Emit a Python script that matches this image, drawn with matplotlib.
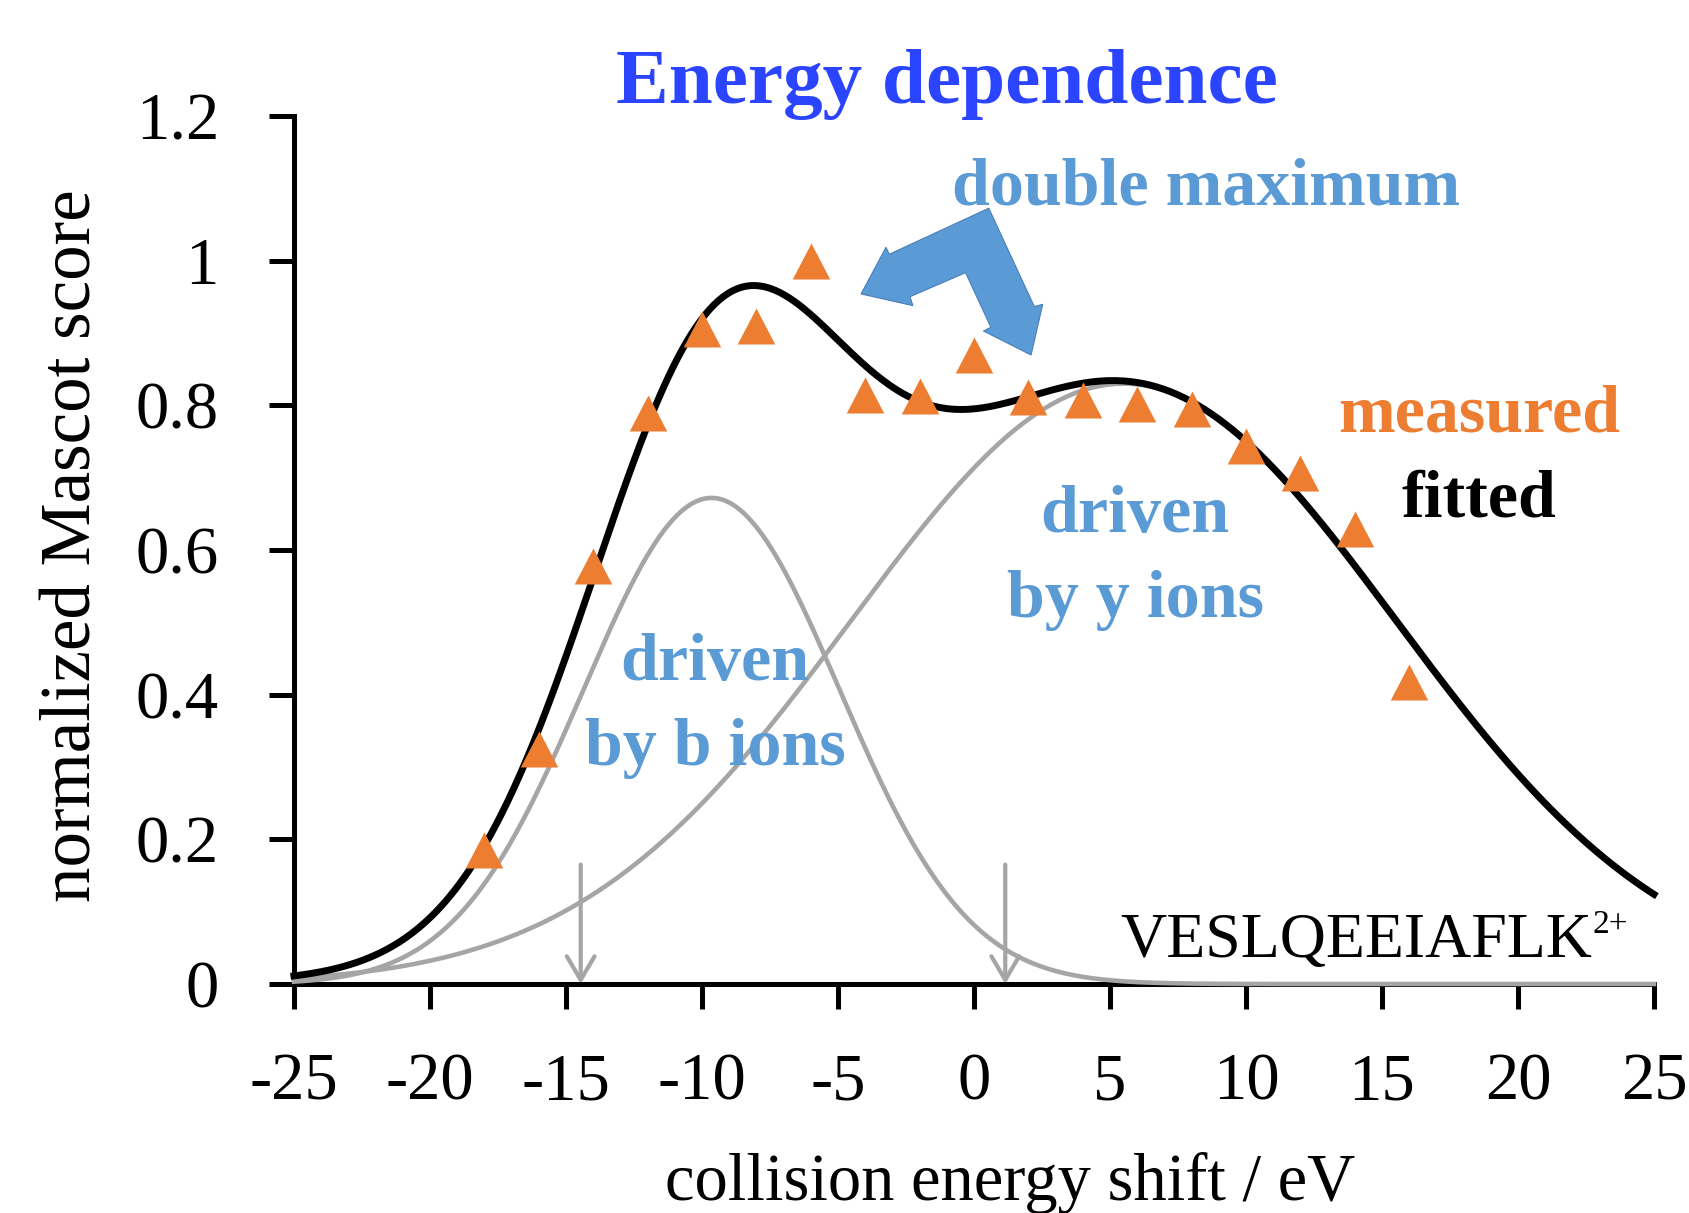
import numpy as np
import matplotlib
matplotlib.use('Agg')
import matplotlib.pyplot as plt
from matplotlib.patches import Polygon, FancyArrowPatch, ArrowStyle

# Measured points (collision energy shift in eV, normalized Mascot score)
shift_ev = [-18, -16, -14, -12, -10, -8, -6, -4, -2, 0, 2, 4, 6, 8, 10, 12, 14, 16]
score = [0.185, 0.325, 0.578, 0.789, 0.905, 0.910, 1.0, 0.814, 0.813, 0.870,
         0.811, 0.808, 0.802, 0.795, 0.744, 0.707, 0.629, 0.417]

# Gaussian components of the fit (b ions, y ions)
comp_centers = [-9.65, 5.5]
comp_heights = [0.672, 0.83]
comp_widths = [4.7, 10.0]

# Positions marked by the grey arrows
marker_shifts = [-14.46, 1.15]

x_ticks = [-25, -20, -15, -10, -5, 0, 5, 10, 15, 20, 25]
y_ticks = [0, 0.2, 0.4, 0.6, 0.8, 1.0, 1.2]
y_tick_labels = ['0', '0.2', '0.4', '0.6', '0.8', '1', '1.2']

ORANGE = '#ED7D31'
LIGHT_BLUE = '#5B9BD5'
GREY = '#A5A5A5'
TITLE_BLUE = '#2B44FF'

plt.rcParams['font.family'] = ['Liberation Serif', 'DejaVu Serif']
plt.rcParams['axes.unicode_minus'] = False

fig = plt.figure(figsize=(16.9, 12.13), dpi=100)
ax = fig.add_axes([0.17396, 0.18879, 0.80473, 0.71558])

# fitted curve and its components
x = np.linspace(-25, 25, 600)
components = [h * np.exp(-(x - c) ** 2 / (2 * w ** 2))
              for c, h, w in zip(comp_centers, comp_heights, comp_widths)]
for comp in components:
    ax.plot(x, comp, color=GREY, lw=3.3, zorder=3, clip_on=False)
ax.plot(x, components[0] + components[1], color='black', lw=5, zorder=4,
        clip_on=False)

# measured points as triangles
tri = [(-0.5, -0.48), (0.5, -0.48), (0.0, 0.48)]
ax.plot(shift_ev, score, linestyle='none', marker=tri, markersize=27,
        color=ORANGE, markeredgewidth=0, zorder=5, clip_on=False)

# grey arrows pointing down to the axis
for xs in marker_shifts:
    ax.add_patch(FancyArrowPatch(
        (xs, 0.165), (xs, 0.0),
        arrowstyle=ArrowStyle('->', head_length=0.85, head_width=0.5),
        mutation_scale=20, color=GREY, lw=3.0, shrinkA=0, shrinkB=0,
        zorder=3, clip_on=False))

# bent double arrow for "double maximum"
bent_arrow = [(0.544, 1.0725), (2.22, 0.9364), (2.526, 0.9397), (2.099, 0.8696),
              (0.346, 0.9028), (0.621, 0.9079), (-0.309, 0.9834),
              (-2.353, 0.9502), (-2.246, 0.9378), (-4.151, 0.954),
              (-3.235, 1.0185), (-3.114, 1.0089)]
ax.add_patch(Polygon(bent_arrow, closed=True, facecolor=LIGHT_BLUE,
                     edgecolor='#4A7EBB', lw=0.8, zorder=6, clip_on=False))

# axes styling
ax.set_xlim(-25, 25)
ax.set_ylim(0, 1.2)
ax.spines['top'].set_visible(False)
ax.spines['right'].set_visible(False)
for side in ['left', 'bottom']:
    ax.spines[side].set_linewidth(3.6)
    ax.spines[side].set_zorder(2)
ax.set_xticks(x_ticks)
ax.set_xticklabels([str(t) for t in x_ticks])
ax.set_yticks(y_ticks)
ax.set_yticklabels(y_tick_labels)
ax.tick_params(axis='both', direction='out', length=18, width=3.6,
               labelsize=48)
ax.tick_params(axis='x', pad=31)
ax.tick_params(axis='y', pad=36)

# labels and annotations
fig.text(0.5604, 0.9151, 'Energy dependence', color=TITLE_BLUE,
         fontsize=57, fontweight='bold', ha='center', va='baseline')
fig.text(0.5975, 0.0107, 'collision energy shift / eV', fontsize=48,
         ha='center', va='baseline')
fig.text(0.043, 0.5499, 'normalized Mascot score', fontsize=51,
         rotation=90, ha='center', va='center')

ax.text(8.53, 1.077, 'double maximum', color=LIGHT_BLUE, fontsize=49,
        fontweight='bold', ha='center', va='baseline')
ax.text(18.57, 0.7636, 'measured', color=ORANGE, fontsize=49,
        fontweight='bold', ha='center', va='baseline')
ax.text(18.57, 0.646, 'fitted', color='black', fontsize=49,
        fontweight='bold', ha='center', va='baseline')
ax.text(-9.52, 0.4203, 'driven', color=LIGHT_BLUE, fontsize=49,
        fontweight='bold', ha='center', va='baseline')
ax.text(-9.52, 0.3028, 'by b ions', color=LIGHT_BLUE, fontsize=49,
        fontweight='bold', ha='center', va='baseline')
ax.text(5.92, 0.6253, 'driven', color=LIGHT_BLUE, fontsize=49,
        fontweight='bold', ha='center', va='baseline')
ax.text(5.92, 0.5078, 'by y ions', color=LIGHT_BLUE, fontsize=49,
        fontweight='bold', ha='center', va='baseline')

pep = ax.text(5.39, 0.0369, 'VESLQEEIAFLK', fontsize=46, ha='left',
              va='baseline')
ax.annotate('2+', xy=(1.0, 1.0), xycoords=pep, xytext=(0, 3),
            textcoords='offset points', fontsize=24, ha='left', va='top')

fig.savefig('out.png', dpi=100)
